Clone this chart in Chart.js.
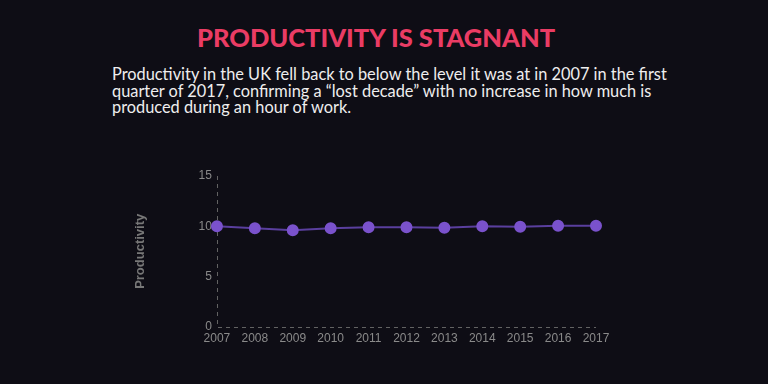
<!DOCTYPE html>
<html>
<head>
<meta charset="utf-8">
<script src="https://cdn.jsdelivr.net/npm/chart.js@4.4.0/dist/chart.umd.min.js"></script>
<style>
  html, body { margin: 0; padding: 0; }
  body {
    width: 768px; height: 384px; overflow: hidden;
    background: #0e0d15; position: relative;
    font-family: Lato, "Open Sans", sans-serif;
  }
  h1 {
    position: absolute; left: -8px; width: 768px; top: 22px; margin: 0;
    text-align: center; font-size: 25.5px; font-weight: 900;
    color: #ea3c64;
  }
  p {
    position: absolute; left: 112px; top: 66px; width: 600px; margin: 0;
    font-size: 16.35px; line-height: 16.6px; color: #eeeeee;
  }
  #wrap { position: absolute; left: 133px; top: 160px; width: 487px; height: 191px; }
</style>
</head>
<body>
<h1>PRODUCTIVITY IS STAGNANT</h1>
<p>Productivity in the UK fell back to below the level it was at in 2007 in the first<br>quarter of 2017, confirming a “lost decade” with no increase in how much is<br>produced during an hour of work.</p>
<div id="wrap"><canvas id="myChart"></canvas></div>
<script>
// years along the bottom
let years = ['2007', '2008', '2009', '2010', '2011', '2012', '2013', '2014', '2015', '2016', '2017'];

// output per hour
let productivity = [10.0, 9.8, 9.6, 9.8, 9.9, 9.9, 9.85, 10.0, 9.95, 10.05, 10.05];

let yTicks = [0, 5, 10, 15];

let tickFont = { family: 'Helvetica, Arial, "Liberation Sans", sans-serif', size: 12 };

// dashed left and bottom axis lines
let dashedAxes = {
    id: 'dashedAxes',
    beforeDatasetsDraw(chart) {
        let ctx = chart.ctx;
        let a = chart.chartArea;
        ctx.save();
        ctx.strokeStyle = '#626262';
        ctx.lineWidth = 1;
        ctx.setLineDash([4, 4]);
        ctx.beginPath();
        ctx.moveTo(Math.round(a.left) + 0.5, a.top);
        ctx.lineTo(Math.round(a.left) + 0.5, Math.round(a.bottom) + 0.5);
        ctx.lineTo(a.right, Math.round(a.bottom) + 0.5);
        ctx.stroke();
        ctx.restore();
    }
};

let config = {
    type: 'line',
    data: {
        labels: years,
        datasets: [{
            label: 'Productivity',
            data: productivity,
            borderColor: '#5a3f9e',
            borderWidth: 2,
            backgroundColor: '#7a52cc',
            pointBackgroundColor: '#7a52cc',
            pointBorderColor: '#7a52cc',
            pointRadius: 5,
            pointHoverRadius: 6,
            tension: 0,
            clip: false
        }]
    },
    options: {
        responsive: true,
        maintainAspectRatio: false,
        animation: false,
        layout: { padding: { top: 16, right: 24, bottom: 0, left: 0 } },
        plugins: {
            legend: { display: false },
            tooltip: { enabled: false }
        },
        scales: {
            x: {
                grid: { display: false, drawTicks: false },
                border: { display: false },
                ticks: { color: '#8a8a8a', font: tickFont, padding: 5, maxRotation: 0 }
            },
            y: {
                min: 0,
                max: 15,
                afterBuildTicks: function(axis) {
                    axis.ticks = yTicks.map(v => ({ value: v }));
                },
                grid: { display: false, drawTicks: false },
                border: { display: false },
                ticks: { color: '#8a8a8a', font: tickFont, padding: 5 },
                title: {
                    display: true,
                    text: 'Productivity',
                    color: '#777',
                    font: { family: 'Helvetica, Arial, "Liberation Sans", sans-serif', size: 13, weight: 'bold' },
                    padding: { top: 0, bottom: 45 }
                }
            }
        }
    },
    plugins: [dashedAxes]
};

const myChart = new Chart(document.getElementById('myChart'), config);
</script>
</body>
</html>
